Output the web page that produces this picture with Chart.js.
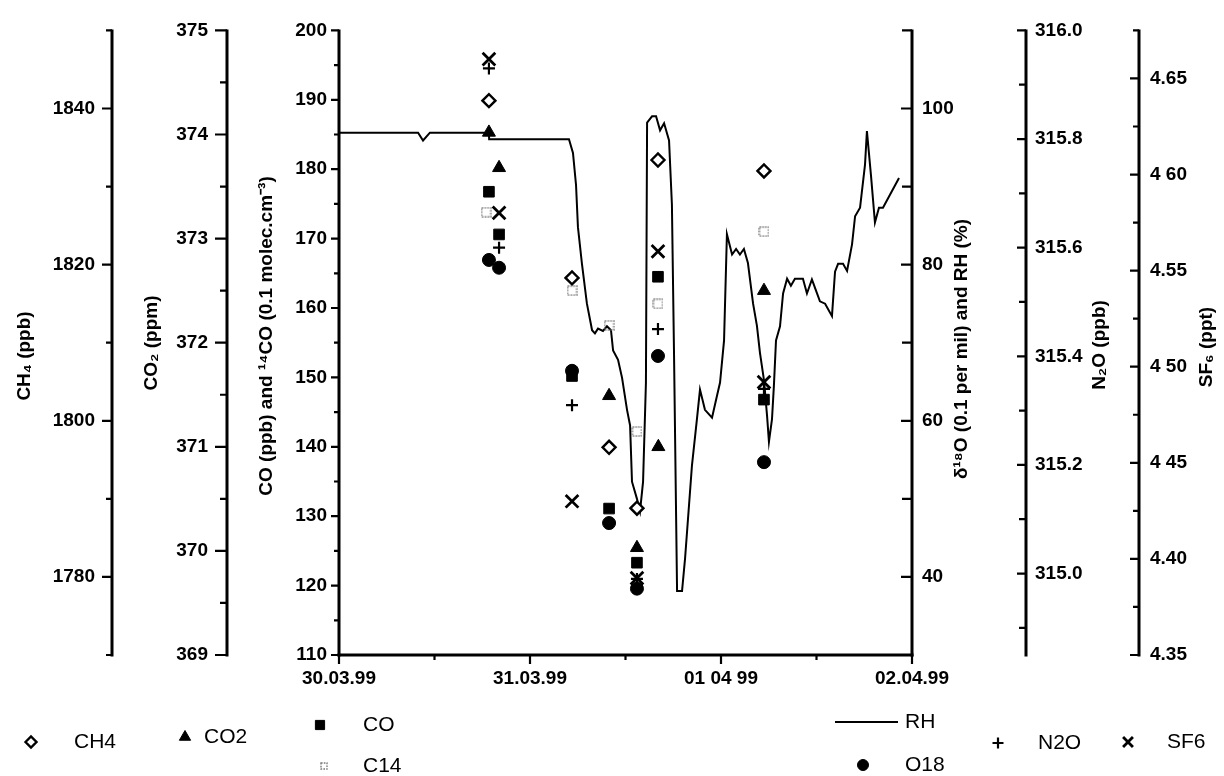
<!DOCTYPE html>
<html><head><meta charset="utf-8">
<script src="https://cdn.jsdelivr.net/npm/chart.js@4.4.1/dist/chart.umd.min.js"></script>
<style>html,body{margin:0;padding:0;background:#fff;}#wrap{width:1224px;height:776px;position:relative;}</style>
</head><body><div id="wrap"><canvas id="c" width="1224" height="776"></canvas></div>
<script>
// ---------------- data (x = days since 30.03.99 00:00) ----------------
const X_TICKS = [0, 1, 2, 3];
const X_TICK_TEXT = ['30.03.99', '31.03.99', '01 04 99', '02.04.99'];
const CH4_TICKS = [1780, 1800, 1820, 1840];
const CO2_TICKS = [369, 370, 371, 372, 373, 374, 375];
const CO_TICKS = [110, 120, 130, 140, 150, 160, 170, 180, 190, 200];
const RH_TICKS = [40, 60, 80, 100];
const N2O_TICKS = [315.0, 315.2, 315.4, 315.6, 315.8, 316.0];
const N2O_TICK_TEXT = ['315.0', '315.2', '315.4', '315.6', '315.8', '316.0'];
const SF6_TICKS = [4.35, 4.40, 4.45, 4.50, 4.55, 4.60, 4.65];
const SF6_TICK_TEXT = ['4.35', '4.40', '4 45', '4 50', '4.55', '4 60', '4.65'];

const CH4_DAY = [0.785, 1.220, 1.414, 1.560, 1.670, 2.225];
const CH4_VAL = [1841.0, 1818.3, 1796.6, 1788.8, 1833.4, 1832.0];
const CO2_DAY = [0.785, 0.838, 1.414, 1.560, 1.672, 2.225];
const CO2_VAL = [374.02, 373.68, 371.49, 370.03, 371.0, 372.5];
const CO_DAY = [0.785, 0.838, 1.220, 1.414, 1.560, 1.670, 2.225];
const CO_VAL = [176.75, 170.6, 150.2, 131.1, 123.3, 164.5, 146.8];
const C14_DAY = [0.770, 1.220, 1.414, 1.560, 1.670, 2.225];
const C14_VAL = [173.8, 162.5, 157.5, 142.2, 160.6, 171.0];
const O18_DAY = [0.785, 0.838, 1.220, 1.414, 1.560, 1.670, 2.225];
const O18_VAL = [80.6, 79.6, 66.4, 46.9, 38.5, 68.3, 54.7];
const N2O_DAY = [0.785, 0.838, 1.220, 1.560, 1.670, 2.225];
const N2O_VAL = [315.93, 315.60, 315.31, 314.99, 315.45, 315.34];
const SF6_DAY = [0.785, 0.838, 1.220, 1.560, 1.670, 2.225];
const SF6_VAL = [4.660, 4.580, 4.430, 4.390, 4.560, 4.492];

const RH_DAY = [0, 0.414, 0.440, 0.476, 0.785, 0.786, 1.204, 1.225, 1.241, 1.251, 1.272, 1.298, 1.325, 1.340, 1.356, 1.382, 1.403, 1.424, 1.435, 1.461, 1.482, 1.508, 1.524, 1.534, 1.560, 1.576, 1.592, 1.607, 1.613, 1.639, 1.660, 1.681, 1.702, 1.728, 1.743, 1.754, 1.770, 1.796, 1.812, 1.848, 1.874, 1.890, 1.916, 1.953, 1.979, 1.995, 2.016, 2.031, 2.058, 2.079, 2.099, 2.120, 2.141, 2.168, 2.188, 2.204, 2.225, 2.241, 2.251, 2.267, 2.277, 2.288, 2.309, 2.325, 2.346, 2.366, 2.387, 2.429, 2.450, 2.476, 2.497, 2.518, 2.545, 2.581, 2.597, 2.613, 2.639, 2.660, 2.686, 2.702, 2.728, 2.754, 2.764, 2.785, 2.806, 2.827, 2.848, 2.932];
const RH_VAL = [96.9, 96.9, 95.9, 96.9, 96.9, 96.05, 96.05, 94.3, 90.2, 84.8, 80.1, 75.0, 71.6, 71.2, 71.8, 71.5, 72.1, 71.6, 69.0, 67.8, 65.5, 61.4, 59.4, 52.2, 50.0, 48.4, 52.2, 64.9, 98.2, 99.0, 99.0, 97.2, 98.1, 95.9, 87.7, 68.7, 38.2, 38.2, 42.4, 54.3, 60.2, 64.0, 61.4, 60.4, 63.2, 64.9, 70.3, 83.9, 81.3, 82.0, 81.3, 82.0, 80.2, 75.0, 72.2, 68.7, 65.2, 60.7, 57.3, 60.2, 64.5, 70.3, 72.1, 76.3, 78.2, 77.3, 78.2, 78.2, 76.3, 78.1, 76.7, 75.3, 75.0, 73.4, 79.1, 80.1, 80.1, 79.2, 82.6, 86.2, 87.3, 92.8, 97.1, 91.5, 85.4, 87.3, 87.3, 91.1];

// ---------------- helpers ----------------
const FAM = '"Liberation Sans", Arial, Helvetica, sans-serif';
const TICK_FONT = {family: FAM, size: 19, weight: 'bold'};
function pts(xs, ys) { return xs.map((x, i) => ({x: x, y: ys[i]})); }
function labeler(ticks, texts) {
  return function (v) {
    const i = ticks.findIndex(t => Math.abs(t - v) < 1e-6);
    return i < 0 ? '' : (texts ? texts[i] : String(ticks[i]));
  };
}
function makeC14(size) {
  const c = document.createElement('canvas');
  c.width = size; c.height = size;
  const g = c.getContext('2d');
  g.strokeStyle = '#7a7a7a'; g.lineWidth = 1.4; g.setLineDash([1.6, 1.2]);
  g.strokeRect(1, 1, size - 2, size - 2);
  return c;
}
const C14_IMG = makeC14(11);
const C14_IMG_SMALL = makeC14(8);

function yScale(pos, weight, min, max, step, ticks, texts, width, pad) {
  return {
    type: 'linear', position: pos, weight: weight, min: min, max: max,
    grid: {display: false, drawTicks: false}, border: {display: false},
    ticks: {stepSize: step, autoSkip: false, padding: pad, color: '#000', font: TICK_FONT,
            callback: labeler(ticks, texts)},
    afterFit: function (s) { s.width = width; }
  };
}

// ---------------- axis lines / tick marks ----------------
const AXIS_STYLE = {
  x:    {step: 0.5,   major: X_TICKS,   len: [9, 5],   side: 'bottom'},
  yCH4: {step: 10,    major: CH4_TICKS, len: [10, 6],  side: 'left'},
  yCO2: {step: 0.5,   major: CO2_TICKS, len: [12, 7],  side: 'left'},
  yCO:  {step: 5,     major: CO_TICKS,  len: [8, 5],   side: 'left'},
  yRH:  {step: 10,    major: RH_TICKS,  len: [11, 10], side: 'right'},
  yN2O: {step: 0.1,   major: N2O_TICKS, len: [9, 7],   side: 'right'},
  ySF6: {step: 0.025, major: SF6_TICKS, len: [9, 6],   side: 'right'}
};
const axisPlugin = {
  id: 'axisMarks',
  afterDatasetsDraw(chart) {
    const ctx = chart.ctx;
    ctx.save();
    ctx.strokeStyle = '#000';
    ctx.lineCap = 'butt';
    for (const id in AXIS_STYLE) {
      const st = AXIS_STYLE[id], s = chart.scales[id];
      const k0 = Math.ceil(s.min / st.step - 1e-6), k1 = Math.floor(s.max / st.step + 1e-6);
      ctx.lineWidth = 3;
      ctx.beginPath();
      if (st.side === 'bottom') {
        ctx.moveTo(s.left - 1.5, s.top); ctx.lineTo(s.right + 1.5, s.top);
      } else {
        const x = st.side === 'left' ? s.right : s.left;
        ctx.moveTo(x, s.top - 1); ctx.lineTo(x, s.bottom + 1.5);
      }
      ctx.stroke();
      ctx.lineWidth = 2.2;
      ctx.beginPath();
      for (let k = k0; k <= k1; k++) {
        const v = k * st.step;
        const major = st.major.some(t => Math.abs(t - v) < 1e-6);
        const L = major ? st.len[0] : st.len[1];
        const p = s.getPixelForValue(v);
        if (st.side === 'bottom') { ctx.moveTo(p, s.top); ctx.lineTo(p, s.top + L); }
        else {
          const x = st.side === 'left' ? s.right : s.left;
          ctx.moveTo(x, p); ctx.lineTo(x - L, p);
        }
      }
      ctx.stroke();
    }
    ctx.restore();
  }
};

// ---------------- axis titles (rotated, reading bottom-to-top) ----------------
const TITLES = [
  {id: 'yCH4', text: 'CH₄ (ppb)', dx: 25, cy: 356},
  {id: 'yCO2', text: 'CO₂ (ppm)', dx: 40, cy: 343},
  {id: 'yCO',  text: 'CO (ppb) and ¹⁴CO (0.1 molec.cm⁻³)', dx: 40, cy: 336},
  {id: 'yRH',  text: 'δ¹⁸O (0.1 per mil) and RH (%)', dx: 50, cy: 349},
  {id: 'yN2O', text: 'N₂O (ppb)', dx: 74, cy: 345},
  {id: 'ySF6', text: 'SF₆ (ppt)', dx: 68, cy: 347}
];
const titlePlugin = {
  id: 'axisTitles',
  afterDraw(chart) {
    const ctx = chart.ctx;
    ctx.save();
    ctx.fillStyle = '#000';
    ctx.font = 'bold 19px ' + FAM;
    ctx.textAlign = 'center'; ctx.textBaseline = 'middle';
    for (const t of TITLES) {
      const s = chart.scales[t.id];
      ctx.save();
      ctx.translate(s.left + t.dx, t.cy);
      ctx.rotate(-Math.PI / 2);
      ctx.fillText(t.text, 0, 0);
      ctx.restore();
    }
    ctx.restore();
  }
};

// ---------------- legend ----------------
const LEGEND_POS = {
  CH4: {mx: 31,  my: 742, tx: 74,  r: 5.5},
  CO2: {mx: 185, my: 737, tx: 204, r: 6.5},
  CO:  {mx: 320, my: 725, tx: 363, r: 6.5},
  C14: {mx: 324, my: 766, tx: 363, r: 5},
  RH:  {mx: 835, my: 722, tx: 905, line: 63},
  O18: {mx: 863, my: 765, tx: 905, r: 5.5},
  N2O: {mx: 998, my: 743, tx: 1038, r: 5.5},
  SF6: {mx: 1128, my: 742, tx: 1167, r: 7}
};
const legendPlugin = {
  id: 'manualLegend',
  afterDraw(chart) {
    const ctx = chart.ctx;
    ctx.save();
    ctx.font = '21px ' + FAM;
    ctx.textAlign = 'left'; ctx.textBaseline = 'middle';
    chart.data.datasets.forEach(ds => {
      const p = LEGEND_POS[ds.label];
      if (!p) return;
      ctx.strokeStyle = '#000'; ctx.fillStyle = '#000';
      if (p.line) {
        ctx.lineWidth = 2;
        ctx.beginPath(); ctx.moveTo(p.mx, p.my); ctx.lineTo(p.mx + p.line, p.my); ctx.stroke();
      } else {
        ctx.fillStyle = ds.pointBackgroundColor;
        ctx.strokeStyle = ds.pointBorderColor;
        ctx.lineWidth = ds.pointBorderWidth;
        const style = ds.label === 'C14' ? C14_IMG_SMALL : ds.pointStyle;
        Chart.helpers.drawPoint(ctx, {pointStyle: style, rotation: 0, radius: p.r, borderWidth: ds.pointBorderWidth}, p.mx, p.my);
      }
      ctx.fillStyle = '#000';
      ctx.fillText(ds.label, p.tx, p.my);
    });
    ctx.restore();
  }
};

// ---------------- chart ----------------
function sc(label, xs, ys, axis, style, r, bg, bw) {
  return {label: label, data: pts(xs, ys), yAxisID: axis, showLine: false,
          pointStyle: style, pointRadius: r, pointBackgroundColor: bg, backgroundColor: bg,
          pointBorderColor: '#000', borderColor: '#000', pointBorderWidth: bw, borderWidth: bw};
}
const datasets = [
  sc('CH4', CH4_DAY, CH4_VAL, 'yCH4', 'rectRot', 6.5, '#fff', 2.4),
  sc('CO2', CO2_DAY, CO2_VAL, 'yCO2', 'triangle', 7.5, '#000', 1),
  sc('CO',  CO_DAY,  CO_VAL,  'yCO',  'rect', 7.5, '#000', 1),
  sc('C14', C14_DAY, C14_VAL, 'yCO',  C14_IMG, 6, 'rgba(0,0,0,0)', 0),
  sc('O18', O18_DAY, O18_VAL, 'yRH',  'circle', 6.5, '#000', 1),
  sc('N2O', N2O_DAY, N2O_VAL, 'yN2O', 'cross', 6, '#000', 2.2),
  sc('SF6', SF6_DAY, SF6_VAL, 'ySF6', 'crossRot', 9, '#000', 2.8),
  {label: 'RH', data: pts(RH_DAY, RH_VAL), yAxisID: 'yRH', showLine: true, borderColor: '#000',
   borderWidth: 2, pointRadius: 0, tension: 0, fill: false}
];

new Chart(document.getElementById('c'), {
  type: 'scatter',
  data: {datasets: datasets},
  options: {
    responsive: false, maintainAspectRatio: false, animation: false, events: [],
    devicePixelRatio: 1,
    layout: {padding: {top: 24, left: 0, right: 0, bottom: 0}, autoPadding: false},
    plugins: {legend: {display: false}, tooltip: {enabled: false}, title: {display: false}},
    scales: {
      x: {type: 'linear', position: 'bottom', min: 0, max: 3,
          grid: {display: false, drawTicks: false}, border: {display: false},
          ticks: {stepSize: 0.5, autoSkip: false, maxRotation: 0, padding: 12, color: '#000', font: TICK_FONT,
                  callback: labeler(X_TICKS, X_TICK_TEXT)},
          afterFit: function (s) { s.height = 121; }},
      yCH4: yScale('left', 3, 1770, 1850, 10, CH4_TICKS, null, 112, 17),
      yCO2: yScale('left', 2, 369, 375, 0.5, CO2_TICKS, null, 115, 19),
      yCO:  yScale('left', 1, 110, 200, 5, CO_TICKS, null, 112, 12),
      yRH:  yScale('right', 1, 30, 110, 10, RH_TICKS, null, 114, 10),
      yN2O: yScale('right', 2, 314.85, 316.0, 0.1, N2O_TICKS, N2O_TICK_TEXT, 113, 9),
      ySF6: yScale('right', 3, 4.35, 4.675, 0.025, SF6_TICKS, SF6_TICK_TEXT, 85, 11)
    }
  },
  plugins: [axisPlugin, titlePlugin, legendPlugin]
});
</script>
</body></html>
